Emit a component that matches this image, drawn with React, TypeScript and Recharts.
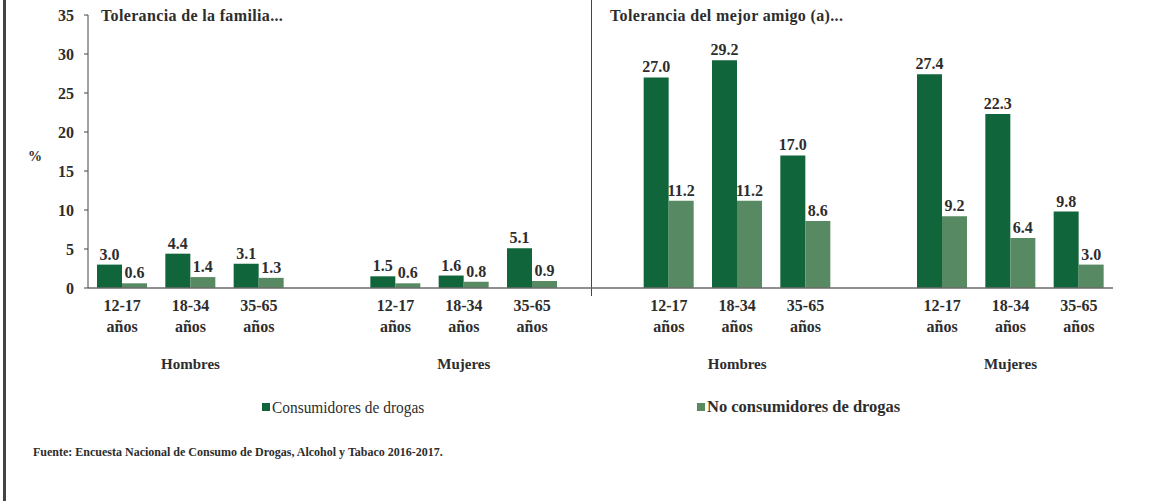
import { BarChart, Bar, XAxis, YAxis, LabelList, ReferenceLine } from 'recharts'

const tickLabels = [
  '12-17', '18-34', '35-65', '',
  '12-17', '18-34', '35-65', '',
  '12-17', '18-34', '35-65', '',
  '12-17', '18-34', '35-65',
]
const groupLabels = [
  '', 'Hombres', '', '',
  '', 'Mujeres', '', '',
  '', 'Hombres', '', '',
  '', 'Mujeres', '',
]
const consumidores = [3.0, 4.4, 3.1, null, 1.5, 1.6, 5.1, null, 27.0, 29.2, 17.0, null, 27.4, 22.3, 9.8]
const noConsumidores = [0.6, 1.4, 1.3, null, 0.6, 0.8, 0.9, null, 11.2, 11.2, 8.6, null, 9.2, 6.4, 3.0]
const yTicks = [0, 5, 10, 15, 20, 25, 30, 35]
const panelTitles = ['Tolerancia de la familia...', 'Tolerancia del mejor amigo (a)...']
const seriesNames = ['Consumidores de drogas', 'No consumidores de drogas']
const source = 'Fuente: Encuesta Nacional de Consumo de Drogas, Alcohol y Tabaco 2016-2017.'

const data = tickLabels.map((t, i) => ({
  id: i,
  consumidores: consumidores[i],
  noConsumidores: noConsumidores[i],
}))

const FONT = '"Liberation Serif", "DejaVu Serif", serif'
const TEXT = '#2d2d2d'
const DARK = '#10663a'
const LIGHT = '#578a63'

function AgeTick({ x, y, payload }: any) {
  const i = Number(payload.value)
  const label = tickLabels[i]
  if (!label) return null
  const group = groupLabels[i]
  return (
    <g fontFamily={FONT} fontWeight="bold" fill={TEXT}>
      <text x={x} y={y} textAnchor="middle" fontSize={16}>
        <tspan x={x} dy={23}>{label}</tspan>
        <tspan x={x} dy={21}>años</tspan>
      </text>
      {group && (
        <text x={x} y={y + 81} textAnchor="middle" fontSize={15}>
          {group}
        </text>
      )}
    </g>
  )
}

const fmt = (v: any) => (v == null ? '' : Number(v).toFixed(1))

const labelStyle = { fontSize: 16, fontWeight: 'bold', fill: TEXT, fontFamily: FONT }

export default function App() {
  return (
    <div
      style={{
        position: 'absolute',
        left: 0,
        top: 0,
        width: 1154,
        height: 501,
        background: '#fff',
        fontFamily: FONT,
        color: TEXT,
      }}
    >
      <div style={{ position: 'absolute', left: 3, top: 0, width: 3, height: 501, background: '#444' }} />

      <BarChart
        width={1154}
        height={501}
        data={data}
        margin={{ top: 15, right: 41, left: 0, bottom: 123 }}
        barGap={0}
        barSize={25}
      >
        <XAxis
          dataKey="id"
          type="category"
          interval={0}
          height={90}
          tickLine={false}
          tickSize={0}
          tickMargin={0}
          tick={<AgeTick />}
          axisLine={{ stroke: '#6b6b6b', strokeWidth: 1.5 }}
        />
        <YAxis
          width={88}
          domain={[0, 35]}
          ticks={yTicks}
          tickSize={4}
          tickMargin={10}
          axisLine={{ stroke: '#444' }}
          tickLine={{ stroke: '#444' }}
          tick={{ fontSize: 16, fontWeight: 'bold', fill: TEXT, fontFamily: FONT }}
          label={{
            value: '%',
            position: 'insideLeft',
            offset: 28,
            dy: 5,
            fontSize: 14,
            fontWeight: 'bold',
            fill: TEXT,
            fontFamily: FONT,
          }}
        />
        <ReferenceLine
          x={7}
          stroke="#444"
          shape={(p: any) => {
            const top = Math.min(p.y1, p.y2)
            const bottom = Math.max(p.y1, p.y2)
            return <line x1={p.x1 - 9} x2={p.x2 - 9} y1={top - 15} y2={bottom + 8} stroke="#444" strokeWidth={1} />
          }}
        />
        <Bar dataKey="consumidores" fill={DARK} isAnimationActive={false}>
          <LabelList dataKey="consumidores" position="top" offset={5} formatter={fmt} style={labelStyle} />
        </Bar>
        <Bar dataKey="noConsumidores" fill={LIGHT} isAnimationActive={false}>
          <LabelList dataKey="noConsumidores" position="top" offset={5} formatter={fmt} style={labelStyle} />
        </Bar>
      </BarChart>

      <div
        style={{
          position: 'absolute',
          left: 101,
          top: 7,
          fontSize: 16,
          fontWeight: 'bold',
          lineHeight: '18px',
          letterSpacing: 0.35,
        }}
      >
        {panelTitles[0]}
      </div>
      <div
        style={{
          position: 'absolute',
          left: 610,
          top: 7,
          fontSize: 16,
          fontWeight: 'bold',
          lineHeight: '18px',
          letterSpacing: 0.35,
        }}
      >
        {panelTitles[1]}
      </div>

      {[DARK, LIGHT].map((c, i) => (
        <div
          key={i}
          style={{
            position: 'absolute',
            left: i === 0 ? 262 : 697,
            top: 397,
            display: 'flex',
            alignItems: 'center',
            lineHeight: '20px',
          }}
        >
          <span style={{ display: 'inline-block', width: 8, height: 8, background: c, marginRight: 2 }} />
          <span
            style={{
              display: 'inline-block',
              fontSize: i === 0 ? 17.5 : 16.5,
              fontWeight: i === 0 ? 'normal' : 'bold',
              transform: i === 0 ? 'scaleX(0.88)' : undefined,
              transformOrigin: 'left center',
              whiteSpace: 'nowrap',
            }}
          >
            {seriesNames[i]}
          </span>
        </div>
      ))}

      <div style={{ position: 'absolute', left: 33, top: 445, fontSize: 12, fontWeight: 'bold', lineHeight: '14px' }}>
        {source}
      </div>
    </div>
  )
}
